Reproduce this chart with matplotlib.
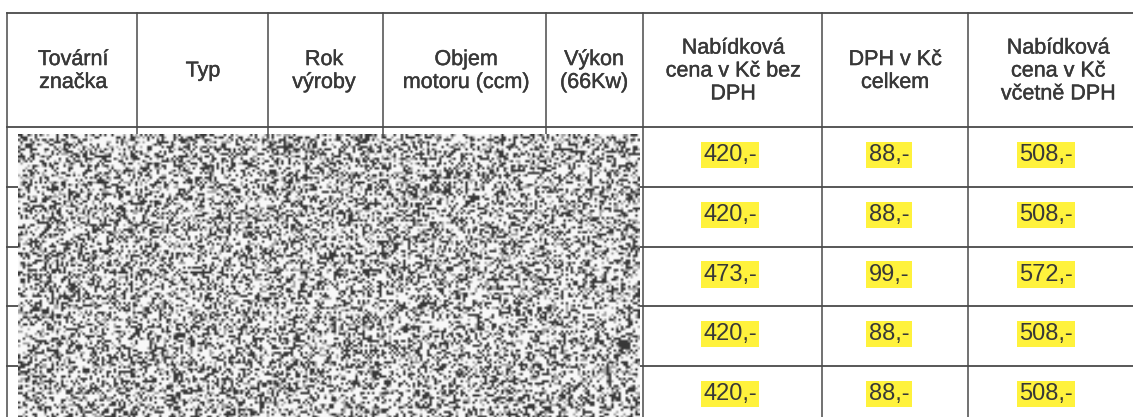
import numpy as np
import matplotlib.pyplot as plt
import matplotlib.patheffects as pe

# ----------------------------
# Table content
# ----------------------------
headers = ["Tovární\nznačka", "Typ", "Rok\nvýroby", "Objem\nmotoru (ccm)",
           "Výkon\n(66Kw)", "Nabídková\ncena v Kč bez\nDPH", "DPH v Kč\ncelkem",
           "Nabídková\ncena v Kč\nvčetně DPH"]
cena_bez_dph = [420, 420, 473, 420, 420]
dph = [88, 88, 99, 88, 88]
cena_s_dph = [508, 508, 572, 508, 508]

# layout (pixels of the scanned page)
col_edges = [7, 137, 268, 383, 546, 643, 822, 968, 1150]
row_edges = [13, 127, 187, 247, 306, 366, 426]
header_x = [73, 203, 324, 466, 594, 733, 895, 1058]
num_x = [730, 889, 1046]

line_col = "#4a4a4a"
text_col = "#383838"
hl_col = "#fff23c"

plt.rcParams['font.family'] = ['Liberation Sans', 'DejaVu Sans']

fig = plt.figure(figsize=(11.33, 4.17), dpi=100)
ax = fig.add_axes([0, 0, 1, 1])
ax.set_xlim(0, 1133)
ax.set_ylim(417, 0)
ax.axis("off")

# grid lines
for y in row_edges:
    ax.plot([col_edges[0], 1133], [y, y], color=line_col, lw=1.3, zorder=1)
for x in col_edges[:-1]:
    ax.plot([x, x], [row_edges[0], 417], color=line_col, lw=1.1, zorder=1)

# slight thickening like the scanned print
thick = [pe.withStroke(linewidth=0.3, foreground=text_col)]

# header
for x, h in zip(header_x, headers):
    ax.text(x, 71, h, ha="center", va="center", fontsize=15.5, color=text_col,
            linespacing=1.12, zorder=3, path_effects=thick)

# values with yellow highlight
for i in range(len(cena_bez_dph)):
    yc = (row_edges[i + 1] + row_edges[i + 2]) / 2 - 2
    for x, v in zip(num_x, [cena_bez_dph[i], dph[i], cena_s_dph[i]]):
        ax.text(x, yc, f"{v},-", ha="center", va="center", fontsize=17,
                color=text_col, zorder=3,
                bbox=dict(facecolor=hl_col, edgecolor="none",
                          boxstyle="square,pad=0.1"))

# redaction mask (texture only, not data)
rng = np.random.default_rng(3)
mask = rng.random((120, 260))
mask = np.where(mask < 0.3, 0.22, np.where(mask < 0.45, 0.65, 0.97))
ax.imshow(mask, cmap="gray", vmin=0, vmax=1, extent=(18, 640, 418, 134),
          interpolation="bilinear", aspect="auto", zorder=2)

fig.savefig("out.png", dpi=100)
